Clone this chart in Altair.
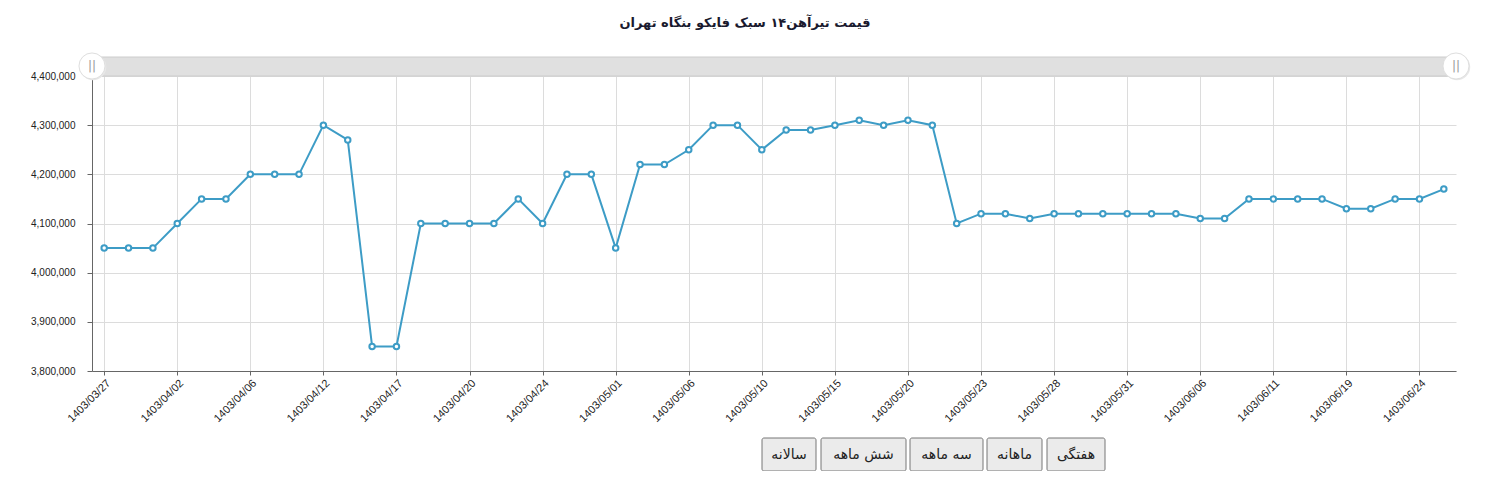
import altair as alt
import pandas as pd

dates = [
    "1403/03/27", "1403/03/28", "1403/03/31", "1403/04/02", "1403/04/03", "1403/04/04",
    "1403/04/06", "1403/04/07", "1403/04/10", "1403/04/12", "1403/04/13", "1403/04/16",
    "1403/04/17", "1403/04/18", "1403/04/19", "1403/04/20", "1403/04/21", "1403/04/23",
    "1403/04/24", "1403/04/25", "1403/04/27", "1403/05/01", "1403/05/02", "1403/05/03",
    "1403/05/06", "1403/05/07", "1403/05/08", "1403/05/10", "1403/05/13", "1403/05/14",
    "1403/05/15", "1403/05/16", "1403/05/17", "1403/05/20", "1403/05/21", "1403/05/22",
    "1403/05/23", "1403/05/24", "1403/05/27", "1403/05/28", "1403/05/29", "1403/05/30",
    "1403/05/31", "1403/06/03", "1403/06/04", "1403/06/06", "1403/06/07", "1403/06/10",
    "1403/06/11", "1403/06/12", "1403/06/13", "1403/06/19", "1403/06/20", "1403/06/21",
    "1403/06/24", "1403/06/25",
]
prices = [
    4050000, 4050000, 4050000, 4100000, 4150000, 4150000,
    4200000, 4200000, 4200000, 4300000, 4270000, 3850000,
    3850000, 4100000, 4100000, 4100000, 4100000, 4150000,
    4100000, 4200000, 4200000, 4050000, 4220000, 4220000,
    4250000, 4300000, 4300000, 4250000, 4290000, 4290000,
    4300000, 4310000, 4300000, 4310000, 4300000, 4100000,
    4120000, 4120000, 4110000, 4120000, 4120000, 4120000,
    4120000, 4120000, 4120000, 4110000, 4110000, 4150000,
    4150000, 4150000, 4150000, 4130000, 4130000, 4150000,
    4150000, 4170000,
]
tick_dates = [
    "1403/03/27", "1403/04/02", "1403/04/06", "1403/04/12", "1403/04/17", "1403/04/20",
    "1403/04/24", "1403/05/01", "1403/05/06", "1403/05/10", "1403/05/15", "1403/05/20",
    "1403/05/23", "1403/05/28", "1403/05/31", "1403/06/06", "1403/06/11", "1403/06/19",
    "1403/06/24",
]
y_ticks = [3800000, 3900000, 4000000, 4100000, 4200000, 4300000, 4400000]
title_text = "قیمت تیرآهن۱۴ سبک فایکو بنگاه تهران"
buttons = ["سالانه", "شش ماهه", "سه ماهه", "ماهانه", "هفتگی"]

# layout (pixels, relative to plot area)
W, H = 1364, 295
button_boxes = [(670, 724), (729, 814), (818, 891), (895, 950), (955, 1013)]
BTN_TOP, BTN_BOTTOM = 362, 395

LINE_COLOR = "#3d9cc6"
FONT = "DejaVu Sans"

df = pd.DataFrame({"date": dates, "price": prices})
one = pd.DataFrame({"k": [0]})

x_enc = alt.X(
    "date:O",
    sort=None,
    scale=alt.Scale(type="point", padding=0.5),
    axis=alt.Axis(
        title=None, values=tick_dates, labelAngle=-45, labelFontSize=11,
        labelFont="Liberation Sans", labelColor="#222", gridColor="#dcdcdc",
        domainColor="#666", tickColor="#666", tickSize=4, labelPadding=2,
    ),
)
y_enc = alt.Y(
    "price:Q",
    scale=alt.Scale(domain=[3800000, 4400000], nice=False, zero=False),
    axis=alt.Axis(
        title=None, values=y_ticks, format=",d", labelFontSize=10,
        labelFont="Liberation Sans", labelColor="#222", gridColor="#dcdcdc",
        domainColor="#666", tickColor="#666", tickSize=5, labelPadding=12,
    ),
)

line = alt.Chart(df).mark_line(color=LINE_COLOR, strokeWidth=2).encode(x=x_enc, y=y_enc)
pts = alt.Chart(df).mark_point(
    shape="circle", size=30, filled=True, fill="white", stroke=LINE_COLOR, strokeWidth=2, opacity=1
).encode(x=alt.X("date:O", sort=None), y="price:Q")

band = alt.Chart(one).mark_rect(fill="#e0e0e0", stroke="#cccccc", strokeWidth=1).encode(
    x=alt.value(0), x2=alt.value(W), y=alt.value(-19), y2=alt.value(0)
)
layers = [line, pts, band]
for hx in (0, W):
    layers.append(
        alt.Chart(one).mark_circle(size=700, color="#e8e8e8", opacity=1).encode(
            x=alt.value(hx + 1), y=alt.value(-9)
        )
    )
    layers.append(
        alt.Chart(one).mark_circle(size=680, color="white", stroke="#dedede", strokeWidth=1, opacity=1).encode(
            x=alt.value(hx), y=alt.value(-10)
        )
    )
    layers.append(
        alt.Chart(one).mark_text(text="||", fontSize=12, color="#999", font=FONT).encode(
            x=alt.value(hx), y=alt.value(-10)
        )
    )
for label, (bx0, bx1) in zip(buttons, button_boxes):
    layers.append(
        alt.Chart(one).mark_rect(fill="#ebebeb", stroke="#767676", strokeWidth=1, cornerRadius=2).encode(
            x=alt.value(bx0), x2=alt.value(bx1), y=alt.value(BTN_TOP), y2=alt.value(BTN_BOTTOM)
        )
    )
    layers.append(
        alt.Chart(one).mark_text(text=label, fontSize=14, color="#222", font=FONT).encode(
            x=alt.value((bx0 + bx1) / 2), y=alt.value((BTN_TOP + BTN_BOTTOM) / 2)
        )
    )

chart = alt.layer(*layers).properties(
    width=W,
    height=H,
    autosize=alt.AutoSizeParams(type="none"),
    padding={"left": 84, "top": 68, "right": 20, "bottom": 100},
    title=alt.TitleParams(
        text=title_text, fontSize=13, font=FONT, fontWeight="bold", color="#1a1a2e",
        anchor="middle", offset=21, dx=-29,
    ),
).configure_view(stroke=None).configure_axis(grid=True)

chart.save("out.html", embed_options={"renderer": "svg", "actions": False})
